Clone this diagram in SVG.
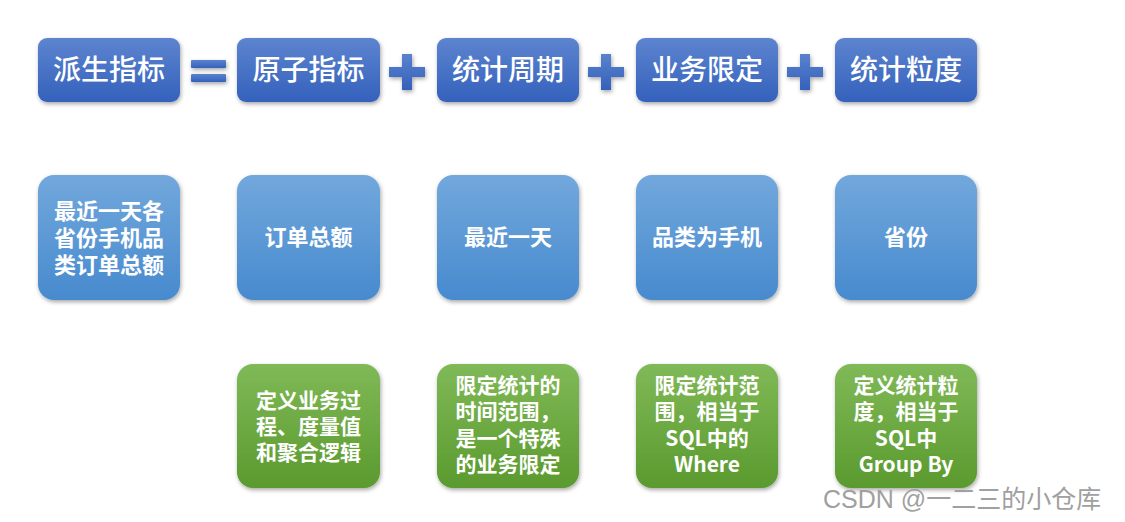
<svg xmlns="http://www.w3.org/2000/svg" width="1125" height="522" viewBox="0 0 1125 522">
<defs>
<linearGradient id="gTop" x1="0" y1="0" x2="0" y2="1"><stop offset="0" stop-color="#5d84cf"/><stop offset="1" stop-color="#3461bc"/></linearGradient>
<linearGradient id="gMid" x1="0" y1="0" x2="0" y2="1"><stop offset="0" stop-color="#72a8dc"/><stop offset="1" stop-color="#478ace"/></linearGradient>
<linearGradient id="gBot" x1="0" y1="0" x2="0" y2="1"><stop offset="0" stop-color="#80b957"/><stop offset="1" stop-color="#5a9a2e"/></linearGradient>
<linearGradient id="gSym" x1="0" y1="0" x2="0" y2="1"><stop offset="0" stop-color="#5a82cd"/><stop offset="1" stop-color="#3461bc"/></linearGradient>
<filter id="sh" x="-10%" y="-10%" width="125%" height="130%"><feDropShadow dx="1" dy="2" stdDeviation="2" flood-color="#000" flood-opacity="0.35"/></filter>
</defs>
<style>
.t{font-family:"Noto Sans CJK SC","Liberation Sans",sans-serif;fill:#fff;text-anchor:middle}
.top{font-size:28px;font-weight:500}
.mid{font-size:22px;font-weight:700}
.bot{font-size:21px;font-weight:700}
</style>
<rect width="1125" height="522" fill="#fff"/>
<g id="n-paisheng"><rect x="38" y="38" width="142" height="64" rx="9" fill="url(#gTop)" filter="url(#sh)"/><text class="t top" x="109" y="80">派生指标</text></g>
<g id="n-yuanzi"><rect x="237" y="38" width="143" height="64" rx="9" fill="url(#gTop)" filter="url(#sh)"/><text class="t top" x="308.5" y="80">原子指标</text></g>
<g id="n-zhouqi"><rect x="437" y="38" width="142" height="64" rx="9" fill="url(#gTop)" filter="url(#sh)"/><text class="t top" x="508" y="80">统计周期</text></g>
<g id="n-xianding"><rect x="636" y="38" width="142" height="64" rx="9" fill="url(#gTop)" filter="url(#sh)"/><text class="t top" x="707" y="80">业务限定</text></g>
<g id="n-lidu"><rect x="835" y="38" width="142" height="64" rx="9" fill="url(#gTop)" filter="url(#sh)"/><text class="t top" x="906" y="80">统计粒度</text></g>
<g id="connectors">
<g filter="url(#sh)" fill="url(#gSym)">
<rect x="191" y="60" width="35" height="8" rx="1"/><rect x="191" y="74" width="35" height="8" rx="1"/>
<path d="M402 54h10v13h13v10h-13v13h-10v-13h-13v-10h13z"/>
<path d="M601 54h10v13h13v10h-13v13h-10v-13h-13v-10h13z"/>
<path d="M800 54h10v13h13v10h-13v13h-10v-13h-13v-10h13z"/>
</g>
</g>
<g id="m-example"><rect x="38" y="175" width="142" height="125" rx="16" fill="url(#gMid)" filter="url(#sh)"/><text class="t mid" x="109" y="219">最近一天各</text><text class="t mid" x="109" y="246">省份手机品</text><text class="t mid" x="109" y="273">类订单总额</text></g>
<g id="m-dingdan"><rect x="237" y="175" width="143" height="125" rx="16" fill="url(#gMid)" filter="url(#sh)"/><text class="t mid" x="308.5" y="245">订单总额</text></g>
<g id="m-zuijin"><rect x="437" y="175" width="142" height="125" rx="16" fill="url(#gMid)" filter="url(#sh)"/><text class="t mid" x="508" y="245">最近一天</text></g>
<g id="m-pinlei"><rect x="636" y="175" width="142" height="125" rx="16" fill="url(#gMid)" filter="url(#sh)"/><text class="t mid" x="707" y="245">品类为手机</text></g>
<g id="m-shengfen"><rect x="835" y="175" width="142" height="125" rx="16" fill="url(#gMid)" filter="url(#sh)"/><text class="t mid" x="906" y="245">省份</text></g>
<g id="b-yuanzi"><rect x="237" y="364" width="143" height="124" rx="16" fill="url(#gBot)" filter="url(#sh)"/><text class="t bot" x="308.5" y="408">定义业务过</text><text class="t bot" x="308.5" y="434">程、度量值</text><text class="t bot" x="308.5" y="460">和聚合逻辑</text></g>
<g id="b-zhouqi"><rect x="437" y="364" width="142" height="124" rx="16" fill="url(#gBot)" filter="url(#sh)"/><text class="t bot" x="508" y="393">限定统计的</text><text class="t bot" x="508" y="419">时间范围，</text><text class="t bot" x="508" y="446">是一个特殊</text><text class="t bot" x="508" y="472">的业务限定</text></g>
<g id="b-xianding"><rect x="636" y="364" width="142" height="124" rx="16" fill="url(#gBot)" filter="url(#sh)"/><text class="t bot" x="707" y="393">限定统计范</text><text class="t bot" x="707" y="419">围，相当于</text><text class="t bot" x="707" y="446">SQL中的</text><text class="t bot" x="707" y="472">Where</text></g>
<g id="b-lidu"><rect x="835" y="364" width="142" height="124" rx="16" fill="url(#gBot)" filter="url(#sh)"/><text class="t bot" x="906" y="393">定义统计粒</text><text class="t bot" x="906" y="419">度，相当于</text><text class="t bot" x="906" y="446">SQL中</text><text class="t bot" x="906" y="472">Group By</text></g>
<text x="823" y="508" style="font-family:'Liberation Sans','Noto Sans CJK SC',sans-serif;font-size:25px;fill:#a0a0a0">CSDN @一二三的小仓库</text>
</svg>
